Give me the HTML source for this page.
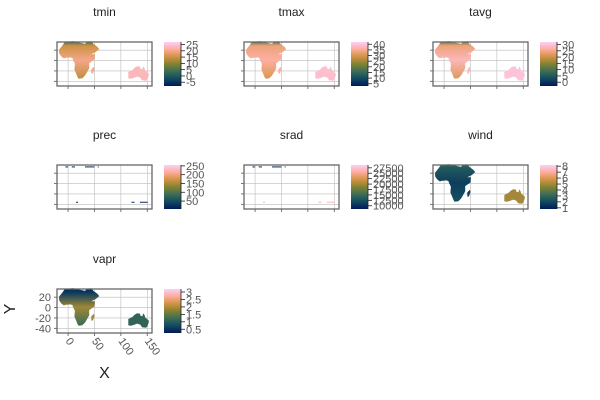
<!DOCTYPE html>
<html><head><meta charset="utf-8"><style>
html,body{margin:0;padding:0;background:#fff;}
svg{display:block;font-family:"Liberation Sans",sans-serif;}
</style></head><body>
<svg id="c" width="600" height="400" viewBox="0 0 600 400"></svg>
<script>
const variables = ["tmin","tmax","tavg","prec","srad","wind","vapr"];
const cMin = [-8, 3, -3, 5, 8500, 0.8, 0.25];
const cMax = [27, 42, 32, 255, 28800, 8.2, 3.2];
const cTicks = [
  [-5,0,5,10,15,20,25],
  [5,10,15,20,25,30,35,40],
  [0,5,10,15,20,25,30],
  [50,100,150,200,250],
  [10000,12500,15000,17500,20000,22500,25000,27500],
  [1,2,3,4,5,6,7,8],
  [0.5,1.0,1.5,2.0,2.5,3.0]
];
// representative values per panel: Africa north edge, Sahara, centre, south, Australia
const africaEdge = [4, 18, 12, 0, 0, 3, 0.4];
const africaN = [15, 33, 24, 0, 0, 2.5, 0.6];
const africaC = [20, 36, 28, 0, 0, 1.7, 1.9];
const africaS = [14, 30, 22, 0, 0, 2.2, 1.2];
const australia = [23, 39, 30, 0, 0, 5, 1.1];
const lonTicks = [0,50,100,150];
const latTicks = [20,0,-20,-40];
const panelX = [57,244,433,57,244,433,57];
const panelY = [42,42,42,165,165,165,289];

const africa = [[-17,14],[-17,21],[-10,30],[-6,36],[10,37],[32,32],[36,36],[44,37],[48,32],[56,26],[59,22],[52,16],[44,12],[51,12],[50,2],[40,-5],[40,-15],[35,-24],[32,-29],[27,-34],[20,-35],[18,-32],[12,-17],[13,-6],[9,2],[9,4],[5,6],[-5,5],[-8,4],[-13,8]];
const madagascar = [[44,-25],[44,-17],[49,-12],[50,-16],[47,-25]];
const aus = [[114,-22],[114,-34],[118,-35],[123,-34],[131,-31],[137,-33],[140,-38],[147,-39],[150,-37],[153,-28],[153,-25],[146,-19],[145,-15],[142,-11],[141,-17],[136,-15],[137,-12],[131,-11],[126,-14],[122,-18]];
const stripLonStart = [-5,7,32,56,15,120,136];
const stripLonEnd = [0,13,50,58,19,126,151];
const stripLat = [32,32,32,32,-36,-36,-36];

const stops = ["#011959","#114a5f","#3c6d56","#828231","#d29243","#fdac9b","#fbcffa"];
function hex(h){return [1,3,5].map(i=>parseInt(h.substr(i,2),16));}
function cmap(t){t=Math.max(0,Math.min(1,t));const s=t*(stops.length-1);const i=Math.min(stops.length-2,Math.floor(s));const f=s-i;const a=hex(stops[i]),b=hex(stops[i+1]);return "rgb("+a.map((v,k)=>Math.round(v+(b[k]-v)*f)).join(",")+")";}

const svg=document.getElementById("c");
const NS="http://www.w3.org/2000/svg";
function el(tag,attrs,parent){const e=document.createElementNS(NS,tag);for(const k in attrs)e.setAttribute(k,attrs[k]);(parent||svg).appendChild(e);return e;}
const W=95,H=44,lonMin=-21,lonMax=159,latMin=-49,latMax=35.7;
const defs=el("defs",{});

variables.forEach((v,i)=>{
  const px=panelX[i],py=panelY[i];
  const g=el("g",{});
  
  
  const sx=lon=>px+(lon-lonMin)/(lonMax-lonMin)*W;
  const sy=lat=>py+(latMax-lat)/(latMax-latMin)*H;
  const t=el("text",{x:px+W/2,y:py-26,"text-anchor":"middle","font-size":"12",fill:"#222"},g);
  t.textContent=v;
  
  
  lonTicks.forEach(l=>{el("line",{x1:sx(l),x2:sx(l),y1:py,y2:py+H,stroke:"#bbb","stroke-width":"0.6"},g);
    el("line",{x1:sx(l),x2:sx(l),y1:py+H,y2:py+H+3,stroke:"#555","stroke-width":"0.8"},g);});
  latTicks.forEach(l=>{el("line",{x1:px,x2:px+W,y1:sy(l),y2:sy(l),stroke:"#bbb","stroke-width":"0.6"},g);
    el("line",{x1:px-3,x2:px,y1:sy(l),y2:sy(l),stroke:"#555","stroke-width":"0.8"},g);});
  const norm=val=>(val-cMin[i])/(cMax[i]-cMin[i]);
  if(v==="prec"||v==="srad"){
    stripLat.forEach((lat,k)=>{
      const col = lat>0 ? "#0b2a5c" : (v==="prec" ? "#0b2a5c" : "#f5b8b8");
      const s=el("line",{x1:sx(stripLonStart[k]),x2:sx(stripLonEnd[k]),y1:sy(lat),y2:sy(lat),stroke:col,"stroke-width":"1"},g);
      
      });
  } else {
    const gid="gr"+i;
    const lg=el("linearGradient",{id:gid,x1:"0",y1:"0",x2:"0",y2:"1"},defs);
    el("stop",{offset:"0","stop-color":cmap(norm(africaEdge[i]))},lg);
    el("stop",{offset:"0.12","stop-color":cmap(norm(africaN[i]))},lg);
    el("stop",{offset:"0.5","stop-color":cmap(norm(africaC[i]))},lg);
    el("stop",{offset:"1","stop-color":cmap(norm(africaS[i]))},lg);
    const pts=arr=>arr.map(p=>sx(p[0]).toFixed(1)+","+sy(p[1]).toFixed(1)).join(" ");
    const a=el("polygon",{points:pts(africa),fill:"url(#"+gid+")"},g);
    
    
    const m=el("polygon",{points:pts(madagascar),fill:cmap(norm(africaC[i]))},g);
    
    
    const au=el("polygon",{points:pts(aus),fill:cmap(norm(australia[i]))},g);
    
    
  }
  el("rect",{x:px,y:py,width:W,height:H,fill:"none",stroke:"#666","stroke-width":"1.3"},g);
  const cx=px+107,cw=17;
  const cg="cb"+i;
  const lg2=el("linearGradient",{id:cg,x1:"0",y1:"1",x2:"0",y2:"0"},defs);
  stops.forEach((s,k)=>el("stop",{offset:k/(stops.length-1),"stop-color":s},lg2));
  const cb=el("rect",{x:cx,y:py,width:cw,height:H,fill:"url(#"+cg+")"},g);
  
  
  el("line",{x1:cx+cw,x2:cx+cw,y1:py,y2:py+H,stroke:"#222","stroke-width":"0.8"},g);
  cTicks[i].forEach(tv=>{
    const y=py+H-(tv-cMin[i])/(cMax[i]-cMin[i])*H;
    el("line",{x1:cx+cw,x2:cx+cw+4,y1:y,y2:y,stroke:"#222","stroke-width":"0.8"},g);
    const tl=el("text",{x:cx+cw+5,y:y+4,"font-size":"11",fill:"#555"},g);
    tl.textContent=String(tv);
    
    
  });
  if(i===6){
    latTicks.forEach(l=>{const tl=el("text",{x:px-6,y:sy(l)+4,"font-size":"11","text-anchor":"end",fill:"#555"},g);
      tl.textContent=String(l);
      
      });
    lonTicks.forEach(l=>{const x=sx(l)-3,y=py+H+8;
      const tl=el("text",{x:x,y:y,"font-size":"11","text-anchor":"start",fill:"#555",transform:"rotate(55 "+x+" "+y+")"},g);
      tl.textContent=String(l);
      
      });
    const xt=el("text",{x:px+W/2,y:378,"font-size":"16","text-anchor":"middle",fill:"#222"},g);
    xt.textContent="X";
    
    
    const yt=el("text",{x:15,y:py+H/2-2,"font-size":"16","text-anchor":"middle",fill:"#222",transform:"rotate(-90 15 "+(py+H/2-2)+")"},g);
    yt.textContent="Y";
    
    
  }
});
</script>
</body></html>
